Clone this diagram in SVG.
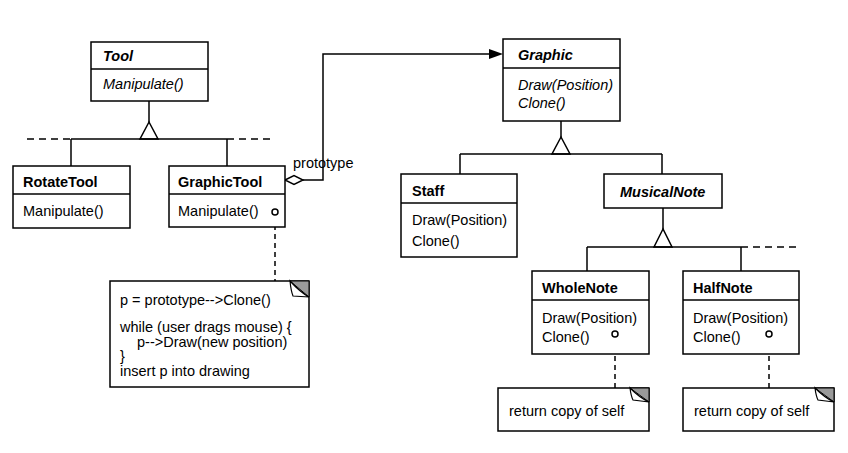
<svg xmlns="http://www.w3.org/2000/svg" width="848" height="453" viewBox="0 0 848 453">
<defs>
<style>
.box{fill:#fff;stroke:#000;stroke-width:1.5}
.ln{fill:none;stroke:#000;stroke-width:1.5}
.dash{fill:none;stroke:#000;stroke-width:1.5;stroke-dasharray:7,5}
.dnote{fill:none;stroke:#000;stroke-width:1.5;stroke-dasharray:5,4}
.tri{fill:#fff;stroke:#000;stroke-width:1.5}
text{font-family:"Liberation Sans",Arial,Helvetica,sans-serif;font-size:14.5px;fill:#000}
.name{font-weight:bold}
.abs{font-weight:bold;font-style:italic}
.it{font-style:italic}
.ear{fill:#9a9a9a;stroke:#000;stroke-width:1}
.flap{fill:#fff;stroke:#000;stroke-width:1.2}
.pin{fill:#fff;stroke:#000;stroke-width:1.5}
</style>
</defs>
<g id="connectors">
<!-- Tool inheritance -->
<line class="ln" x1="149" y1="101" x2="149" y2="122"/>
<polygon class="tri" points="149,122 140,139 158,139"/>
<line class="ln" x1="71" y1="139" x2="227" y2="139"/>
<line class="dash" x1="27" y1="139" x2="71" y2="139"/>
<line class="dash" x1="227" y1="139" x2="272" y2="139"/>
<line class="ln" x1="71" y1="139" x2="71" y2="166"/>
<line class="ln" x1="227" y1="139" x2="227" y2="166"/>
<!-- prototype aggregation -->
<polygon class="tri" points="285,180 294,175.5 303,180 294,184.5"/>
<polyline class="ln" points="303,180 323,180 323,54 490,54"/>
<polygon points="489,49 503,54 489,59" fill="#000"/>
<text x="293" y="168">prototype</text>
<!-- Graphic inheritance -->
<line class="ln" x1="561" y1="121" x2="561" y2="137"/>
<polygon class="tri" points="561,137 552,154 570,154"/>
<line class="ln" x1="460" y1="154" x2="662" y2="154"/>
<line class="ln" x1="460" y1="154" x2="460" y2="174"/>
<line class="ln" x1="662" y1="154" x2="662" y2="174"/>
<!-- MusicalNote inheritance -->
<line class="ln" x1="663" y1="208" x2="663" y2="229"/>
<polygon class="tri" points="663,229 654,247 672,247"/>
<line class="ln" x1="587" y1="247" x2="741" y2="247"/>
<line class="dash" x1="741" y1="247" x2="797" y2="247"/>
<line class="ln" x1="587" y1="247" x2="587" y2="271"/>
<line class="ln" x1="741" y1="247" x2="741" y2="271"/>
<!-- note links -->
<line class="dnote" x1="275" y1="216" x2="275" y2="281"/>
<line class="dnote" x1="615" y1="338" x2="615" y2="388"/>
<line class="dnote" x1="769" y1="338" x2="769" y2="388"/>
</g>
<g id="Tool">
<rect class="box" x="91" y="42" width="117" height="59"/>
<line class="ln" x1="91" y1="69" x2="208" y2="69"/>
<text class="abs" x="103" y="61">Tool</text>
<text class="it" x="103" y="89">Manipulate()</text>
</g>
<g id="RotateTool">
<rect class="box" x="13" y="166" width="117" height="62"/>
<line class="ln" x1="13" y1="194" x2="130" y2="194"/>
<text class="name" x="23" y="187">RotateTool</text>
<text x="23" y="216">Manipulate()</text>
</g>
<g id="GraphicTool">
<rect class="box" x="169" y="166" width="116" height="61"/>
<line class="ln" x1="169" y1="194" x2="285" y2="194"/>
<text class="name" x="178" y="187">GraphicTool</text>
<text x="178" y="216">Manipulate()</text>
<circle class="pin" cx="275" cy="212" r="3"/>
</g>
<g id="GraphicToolNote">
<rect class="box" x="110" y="281" width="199" height="106"/>
<polygon class="ear" points="290,281 309,281 309,297"/>
<path class="flap" d="M290,281 Q291,291 293,296 L309,297 Q300,292 290,281 Z"/>
<text x="120" y="305">p = prototype--&gt;Clone()</text>
<text x="120" y="332">while (user drags mouse) {</text>
<text x="137" y="347">p--&gt;Draw(new position)</text>
<text x="120" y="361">}</text>
<text x="120" y="376">insert p into drawing</text>
</g>
<g id="Graphic">
<rect class="box" x="503" y="39" width="117" height="82"/>
<line class="ln" x1="503" y1="68" x2="620" y2="68"/>
<text class="abs" x="518" y="60">Graphic</text>
<text class="it" x="518" y="90">Draw(Position)</text>
<text class="it" x="518" y="108">Clone()</text>
</g>
<g id="Staff">
<rect class="box" x="401" y="174" width="116" height="83"/>
<line class="ln" x1="401" y1="203" x2="517" y2="203"/>
<text class="name" x="412" y="196">Staff</text>
<text x="412" y="225">Draw(Position)</text>
<text x="412" y="246">Clone()</text>
</g>
<g id="MusicalNote">
<rect class="box" x="604" y="174" width="118" height="34"/>
<text class="abs" x="620" y="197">MusicalNote</text>
</g>
<g id="WholeNote">
<rect class="box" x="532" y="271" width="117" height="83"/>
<line class="ln" x1="532" y1="300" x2="649" y2="300"/>
<text class="name" x="542" y="293">WholeNote</text>
<text x="542" y="323">Draw(Position)</text>
<text x="542" y="342">Clone()</text>
<circle class="pin" cx="615" cy="334" r="3"/>
</g>
<g id="HalfNote">
<rect class="box" x="683" y="271" width="116" height="83"/>
<line class="ln" x1="683" y1="300" x2="799" y2="300"/>
<text class="name" x="693" y="293">HalfNote</text>
<text x="693" y="323">Draw(Position)</text>
<text x="693" y="342">Clone()</text>
<circle class="pin" cx="769" cy="334" r="3"/>
</g>
<g id="WholeNoteNote">
<rect class="box" x="498" y="388" width="151" height="43"/>
<polygon class="ear" points="630,388 649,388 649,402"/>
<path class="flap" d="M630,388 Q631,396 633,400 L649,402 Q640,398 630,388 Z"/>
<text x="509" y="416">return copy of self</text>
</g>
<g id="HalfNoteNote">
<rect class="box" x="683" y="388" width="151" height="43"/>
<polygon class="ear" points="815,388 834,388 834,402"/>
<path class="flap" d="M815,388 Q816,396 818,400 L834,402 Q825,398 815,388 Z"/>
<text x="694" y="416">return copy of self</text>
</g>
</svg>
